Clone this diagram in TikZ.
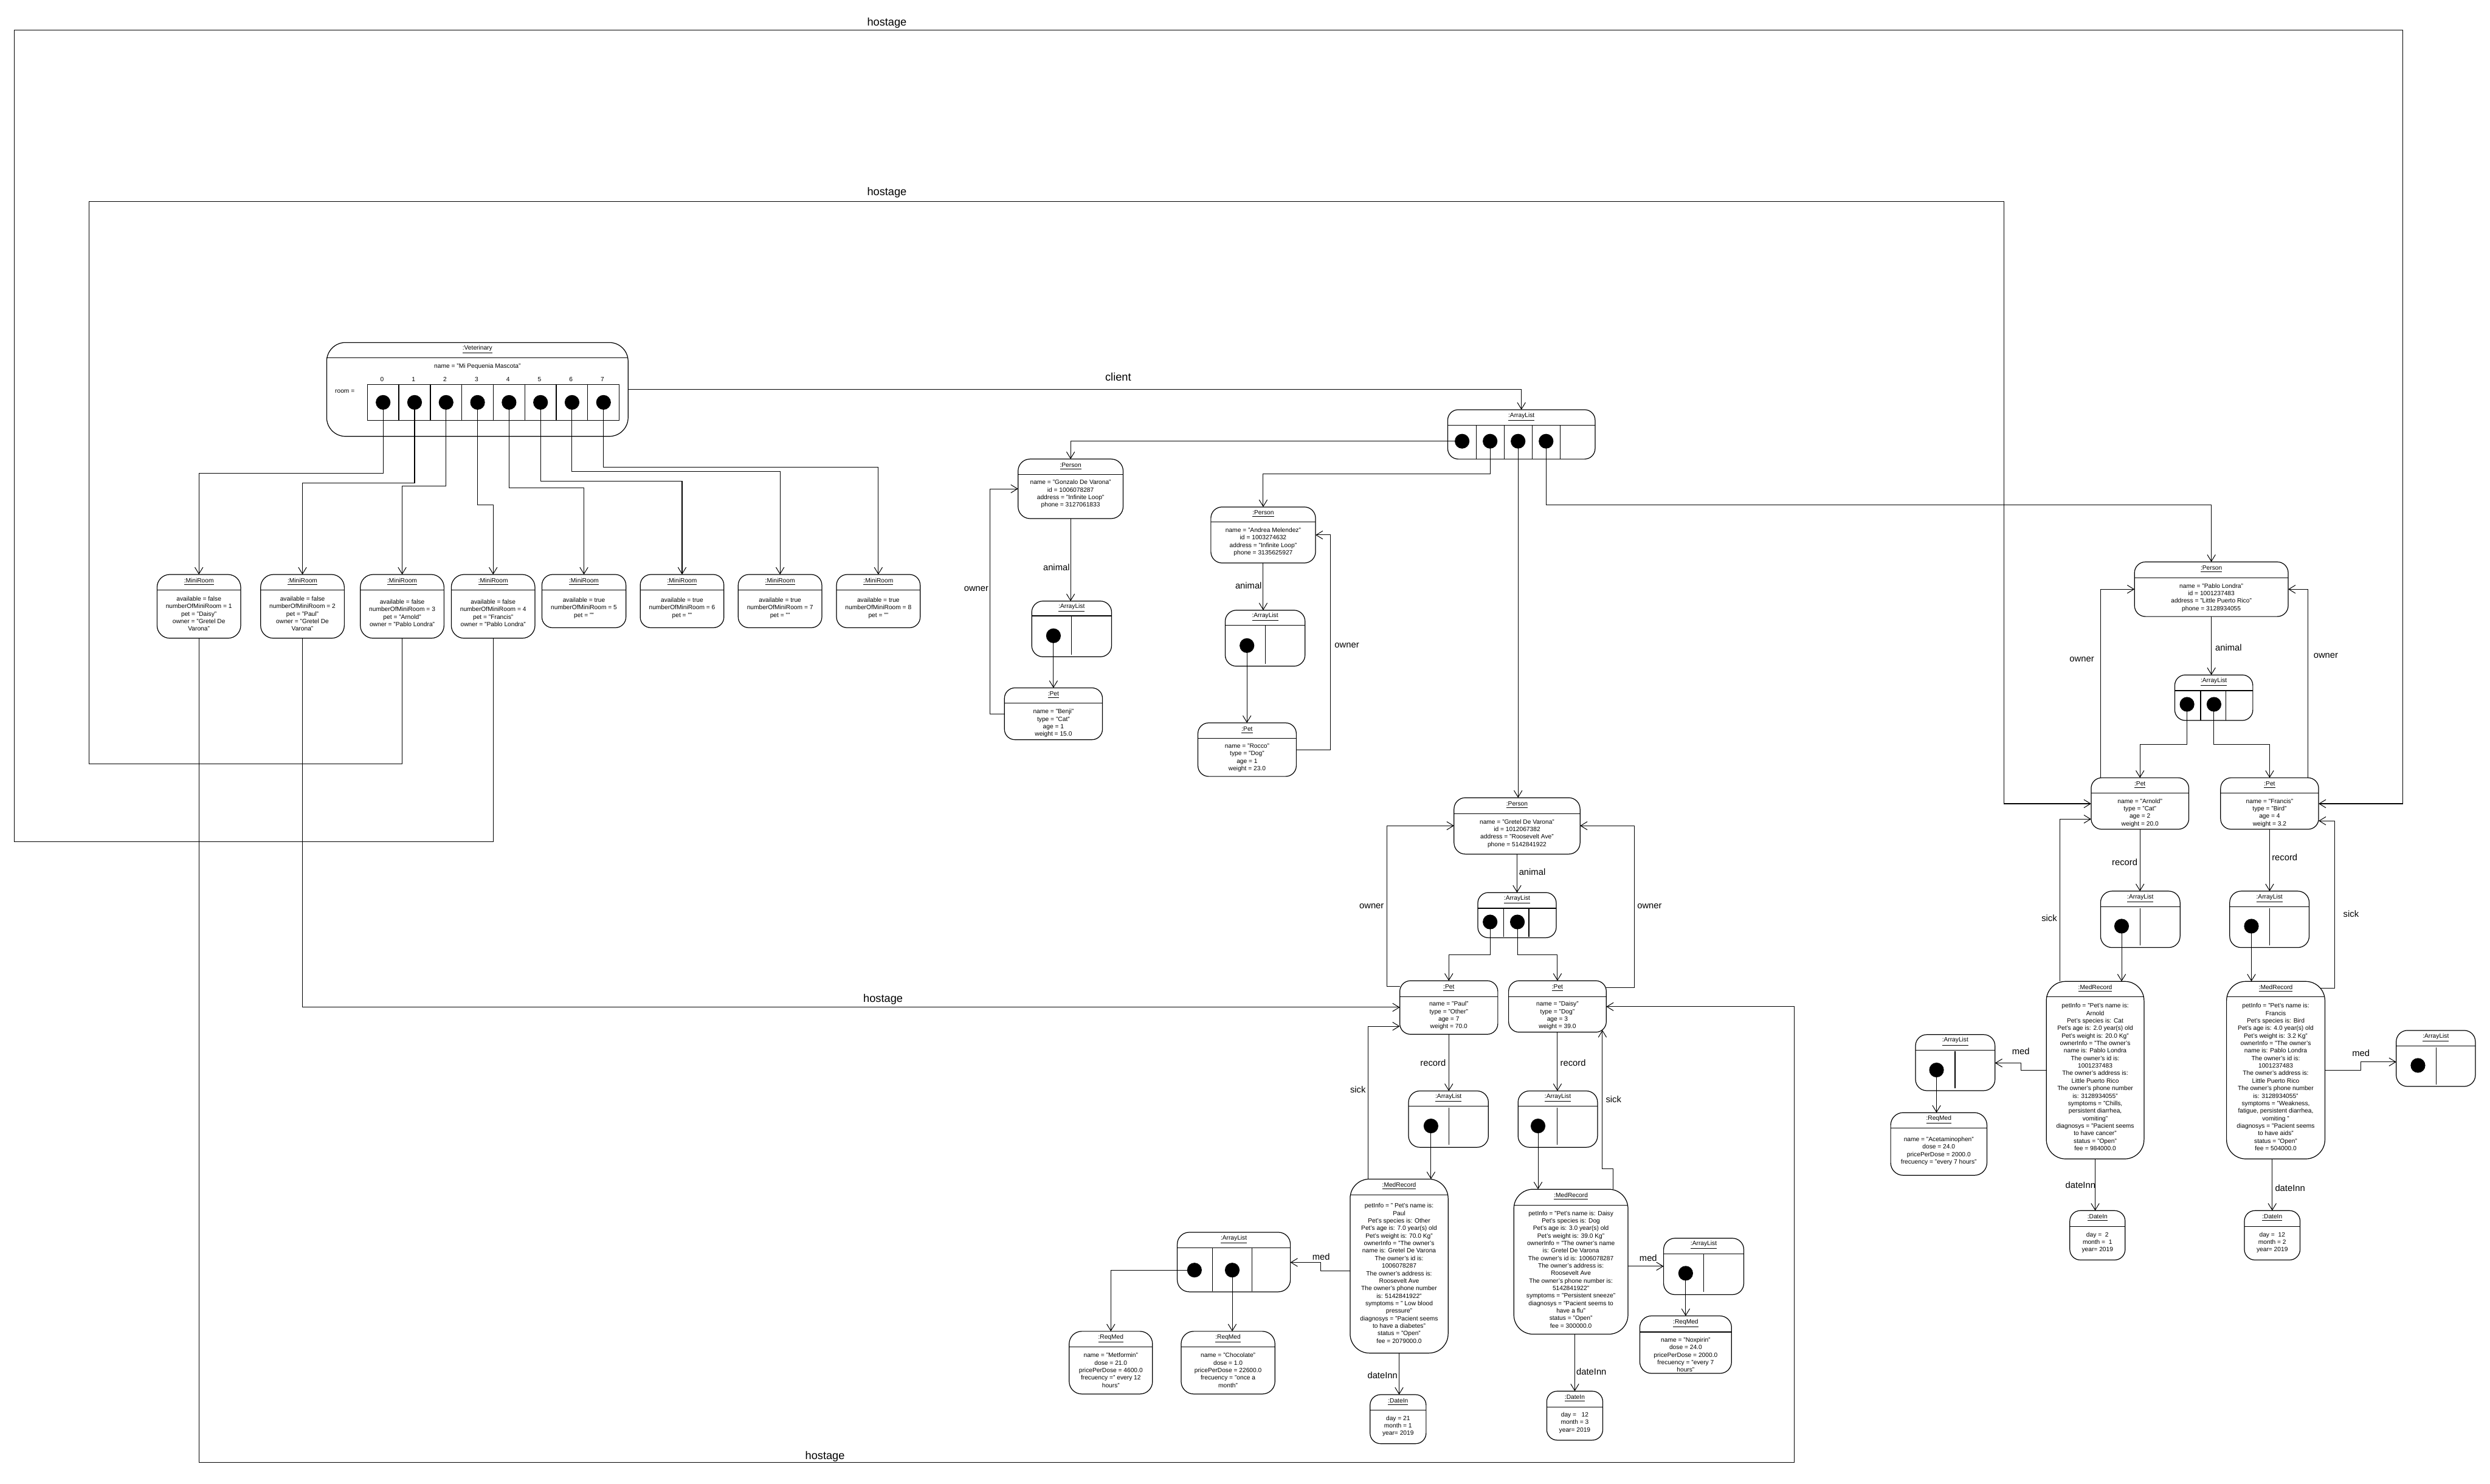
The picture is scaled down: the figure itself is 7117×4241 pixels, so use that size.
\documentclass[tikz,border=0pt]{standalone}
\usepackage{fontspec}
\setmainfont{Liberation Sans}
\usetikzlibrary{arrows.meta}
\newcommand\attrfont{\fontsize{5.05}{6.1}\selectfont}
\newcommand\lblfont{\fontsize{7.3}{8.5}\selectfont}
\newcommand\bigfont{\fontsize{9}{10.5}\selectfont}
\tikzset{
 box/.style={line width=0.6pt},
 conn/.style={line width=0.5pt},
 arr/.style={conn,-{Straight Barb[length=5.4pt,width=6.6pt]}},
 attr/.style={font=\attrfont,inner sep=0pt,align=center},
 lbl/.style={font=\lblfont,inner sep=0pt,text height=0.72em,text depth=0.2em},
 bigl/.style={font=\bigfont,inner sep=0pt,text height=0.72em,text depth=0.2em},
 dot/.style={circle,fill=black,inner sep=0pt,minimum size=0.42cm},
}
% #1 name, #2 left, #3 top, #4 right, #5 bottom, #6 header y, #7 title, #8 body y, #9 body
\newcommand\uobj[9]{%
 \pgfmathsetmacro\uw{(#4-#2)/100}%
 \pgfmathsetmacro\uh{(#5-#3)/100}%
 \pgfmathsetmacro\ucx{(#2+#4)/2}%
 \pgfmathsetmacro\ucy{(#3+#5)/2}%
 \pgfmathsetmacro\ur{min(max(0.2*min(\uw,\uh),0.30),0.55)}%
 \node[inner sep=0pt,outer sep=0pt,minimum width=\uw cm,minimum height=\uh cm] (#1) at (\ucx,\ucy) {};
 \draw[box,rounded corners=\ur cm] (#1.north west) rectangle (#1.south east);
 \draw[box] (#1.west |- 0,#6) -- (#1.east |- 0,#6);
 \node[attr] (#1-t) at (\ucx,{(#3+#6)/2-2}) {\underline{#7}};
 \if\relax\detokenize{#9}\relax\else
 \node[attr] (#1-b) at (\ucx,#8) {#9};\fi
}
\begin{document}
\begin{tikzpicture}[x=0.01cm,y=-0.01cm]
\useasboundingbox (0,0) rectangle (7117,4241);

% ---------- Veterinary ----------
\uobj{vet}{934}{979}{1795}{1247}{1023}{:Veterinary}{1048}{name = "Mi Pequenia Mascota"}
\node[attr,anchor=west] (roomlbl) at (957,1119) {room =};
\draw[box] (1050,1099) rectangle (1770,1202);
\foreach \i in {1,...,7} \draw[box] ({1050+90*\i},1099) -- ({1050+90*\i},1202);
\foreach \i in {0,...,7} {
 \node[attr] (vi\i) at ({1092+90*\i},1084) {\i};
 \node[dot] (vc\i) at ({1095+90*\i},1150) {};
}

% ---------- MiniRooms ----------
\uobj{room1}{449}{1642}{688}{1824}{1686}{:MiniRoom}{1754}{available = false\\numberOfMiniRoom = 1\\pet = "Daisy"\\owner = "Gretel De\\Varona"}
\uobj{room2}{745}{1642}{984}{1824}{1686}{:MiniRoom}{1754}{available = false\\numberOfMiniRoom = 2\\pet = "Paul"\\owner = "Gretel De\\Varona"}
\uobj{room3}{1030}{1642}{1269}{1824}{1686}{:MiniRoom}{1752}{available = false\\numberOfMiniRoom = 3\\pet = "Arnold"\\owner = "Pablo Londra"}
\uobj{room4}{1290}{1642}{1529}{1824}{1686}{:MiniRoom}{1752}{available = false\\numberOfMiniRoom = 4\\pet = "Francis"\\owner = "Pablo Londra"}
\uobj{room5}{1549}{1642}{1789}{1794}{1686}{:MiniRoom}{1738}{available = true\\numberOfMiniRoom = 5\\pet = ""}
\uobj{room6}{1830}{1642}{2069}{1794}{1686}{:MiniRoom}{1738}{available = true\\numberOfMiniRoom = 6\\pet = ""}
\uobj{room7}{2110}{1642}{2349}{1794}{1686}{:MiniRoom}{1738}{available = true\\numberOfMiniRoom = 7\\pet = ""}
\uobj{room8}{2391}{1642}{2630}{1794}{1686}{:MiniRoom}{1738}{available = true\\numberOfMiniRoom = 8\\pet = ""}

% ---------- top ArrayList ----------
\uobj{alTop}{4138}{1171}{4559}{1312}{1216}{:ArrayList}{0}{}
\foreach \x in {4219,4299,4379,4459} \draw[box] (\x,1216) -- (\x,1312);
\node[dot] (a1) at (4179,1261) {};
\node[dot] (a2) at (4259,1261) {};
\node[dot] (a3) at (4339,1261) {};
\node[dot] (a4) at (4419,1261) {};

% ---------- Gonzalo ----------
\uobj{gonP}{2910}{1312}{3210}{1482}{1356}{:Person}{1412}{name = "Gonzalo De Varona"\\id = 1006078287\\address = "Infinite Loop"\\phone = 3127061833}
\uobj{gonAL}{2949}{1718}{3177}{1877}{1760}{:ArrayList}{0}{}
\draw[box] (3063,1760) -- (3063,1871);
\node[dot] (gzd) at (3011,1817) {};
\uobj{benji}{2871}{1966}{3151}{2114}{2010}{:Pet}{2067}{name = "Benji"\\type = "Cat"\\age = 1\\weight = 15.0}

% ---------- Andrea ----------
\uobj{andP}{3461}{1449}{3760}{1609}{1492}{:Person}{1549}{name = "Andrea Melendez"\\id = 1003274632\\address = "Infinite Loop"\\phone = 3135625927}
\uobj{andAL}{3502}{1744}{3730}{1904}{1787}{:ArrayList}{0}{}
\draw[box] (3616,1787) -- (3616,1897);
\node[dot] (ad) at (3564,1845) {};
\uobj{rocco}{3424}{2066}{3705}{2219}{2110}{:Pet}{2166}{name = "Rocco"\\type = "Dog"\\age = 1\\weight = 23.0}

% ---------- Pablo ----------
\uobj{pabP}{6101}{1606}{6540}{1762}{1651}{:Person}{1708}{name = "Pablo Londra"\\id = 1001237483\\address = "Little Puerto Rico"\\phone = 3128934055}
\uobj{pabAL}{6216}{1929}{6439}{2059}{1974}{:ArrayList}{0}{}
\draw[box] (6290,1974) -- (6290,2059);
\draw[box] (6362,1974) -- (6362,2059);
\node[dot] (pd1) at (6251,2013) {};
\node[dot] (pd2) at (6328,2013) {};
\uobj{arnold}{5977}{2223}{6256}{2370}{2266}{:Pet}{2323}{name = "Arnold"\\type = "Cat"\\age = 2\\weight = 20.0}
\uobj{francis}{6347}{2223}{6627}{2370}{2266}{:Pet}{2323}{name = "Francis"\\type = "Bird"\\age = 4\\weight = 3.2}
\uobj{arnAL}{6004}{2547}{6231}{2708}{2591}{:ArrayList}{0}{}
\draw[box] (6117,2595) -- (6117,2701);
\node[dot] (arc) at (6064,2647) {};
\uobj{fraAL}{6373}{2547}{6600}{2708}{2591}{:ArrayList}{0}{}
\draw[box] (6487,2595) -- (6487,2701);
\node[dot] (frc) at (6435,2647) {};
\uobj{arnMR}{5849}{2805}{6128}{3312}{2849}{:MedRecord}{3078}{petInfo = "Pet's name is:\\Arnold\\Pet's species is: Cat\\Pet's age is: 2.0 year(s) old\\Pet's weight is: 20.0 Kg"\\ownerInfo = "The owner's\\name is: Pablo Londra\\The owner's id is:\\1001237483\\The owner's address is:\\Little Puerto Rico\\The owner's phone number\\is: 3128934055"\\symptoms =  "Chills,\\persistent diarrhea,\\vomiting"\\diagnosys = "Pacient seems\\to have cancer"\\status = "Open"\\fee = 984000.0}
\uobj{fraMR}{6364}{2805}{6645}{3312}{2849}{:MedRecord}{3078}{petInfo = "Pet's name is:\\Francis\\Pet's species is: Bird\\Pet's age is: 4.0 year(s) old\\Pet's weight is: 3.2 Kg"\\ownerInfo = "The owner's\\name is: Pablo Londra\\The owner's id is:\\1001237483\\The owner's address is:\\Little Puerto Rico\\The owner's phone number\\is: 3128934055"\\symptoms =  "Weakness,\\fatigue, persistent diarrhea,\\vomiting "\\diagnosys = "Pacient seems\\to have aids"\\status = "Open"\\fee = 504000.0}
\uobj{arnMedAL}{5475}{2957}{5702}{3117}{3001}{:ArrayList}{0}{}
\draw[box] (5588,3005) -- (5588,3110);
\node[dot] (amc) at (5535,3058) {};
\uobj{fraMedAL}{6849}{2945}{7075}{3105}{2989}{:ArrayList}{0}{}
\draw[box] (6963,2993) -- (6963,3099);
\node[dot] (fmc) at (6911,3045) {};
\uobj{acet}{5404}{3180}{5679}{3359}{3224}{:ReqMed}{3290}{name = "Acetaminophen"\\dose = 24.0\\pricePerDose =  2000.0\\frecuency = "every 7 hours"}
\uobj{arnDate}{5916}{3460}{6074}{3601}{3505}{:DateIn}{3551}{day =\ \ 2\\month =\ \ 1\\year= 2019}
\uobj{fraDate}{6415}{3460}{6574}{3601}{3505}{:DateIn}{3551}{day =\ \ 12\\month = 2\\year= 2019}

% ---------- Gretel ----------
\uobj{greP}{4156}{2280}{4516}{2441}{2325}{:Person}{2382}{name = "Gretel De Varona"\\id = 1012067382\\address = "Roosevelt Ave"\\phone = 5142841922}
\uobj{greAL}{4224}{2551}{4448}{2680}{2596}{:ArrayList}{0}{}
\draw[box] (4298,2596) -- (4298,2678);
\draw[box] (4370,2596) -- (4370,2678);
\node[dot] (grd1) at (4259,2635) {};
\node[dot] (grd2) at (4337,2635) {};
\uobj{paul}{4001}{2803}{4281}{2956}{2848}{:Pet}{2903}{name = "Paul"\\type = "Other"\\age = 7\\weight = 70.0}
\uobj{daisy}{4312}{2803}{4591}{2950}{2848}{:Pet}{2903}{name = "Daisy"\\type = "Dog"\\age = 3\\weight = 39.0}
\uobj{paulAL}{4026}{3118}{4254}{3279}{3162}{:ArrayList}{0}{}
\draw[box] (4141,3166) -- (4141,3272);
\node[dot] (pad) at (4090,3218) {};
\uobj{daisyAL}{4339}{3118}{4566}{3279}{3162}{:ArrayList}{0}{}
\draw[box] (4451,3166) -- (4451,3272);
\node[dot] (dad) at (4396,3218) {};
\uobj{paulMR}{3859}{3370}{4139}{3867}{3415}{:MedRecord}{3639}{petInfo = " Pet's name is:\\Paul\\Pet's species is: Other\\Pet's age is: 7.0 year(s) old\\Pet's weight is: 70.0 Kg"\\ownerInfo = "The owner's\\name is: Gretel De Varona\\The owner's id is:\\1006078287\\The owner's address is:\\Roosevelt Ave\\The owner's phone number\\is: 5142841922"\\symptoms =  " Low blood\\pressure"\\diagnosys = "Pacient seems\\to have a diabetes"\\status = "Open"\\fee = 2079000.0}
\uobj{daisyMR}{4327}{3399}{4653}{3813}{3444}{:MedRecord}{3628}{petInfo = "Pet's name is: Daisy\\Pet's species is: Dog\\Pet's age is: 3.0 year(s) old\\Pet's weight is: 39.0 Kg"\\ownerInfo = "The owner's name\\is: Gretel De Varona\\The owner's id is: 1006078287\\The owner's address is:\\Roosevelt Ave\\The owner's phone number is:\\5142841922"\\symptoms =  "Persistent sneeze"\\diagnosys = "Pacient seems to\\have a flu"\\status = "Open"\\fee = 300000.0}
\uobj{paulMedAL}{3365}{3522}{3688}{3692}{3566}{:ArrayList}{0}{}
\draw[box] (3465,3566) -- (3465,3691);
\draw[box] (3578,3566) -- (3578,3691);
\node[dot] (pm1) at (3414,3630) {};
\node[dot] (pm2) at (3522,3630) {};
\uobj{metf}{3056}{3805}{3294}{3984}{3850}{:ReqMed}{3916}{name = "Metformin"\\dose = 21.0\\pricePerDose = 4600.0\\frecuency =" every 12\\hours"}
\uobj{choc}{3376}{3805}{3644}{3984}{3850}{:ReqMed}{3916}{name = "Chocolate"\\dose = 1.0\\pricePerDose = 22600.0\\frecuency = "once a\\month"}
\uobj{paulDate}{3916}{3986}{4076}{4126}{4030}{:DateIn}{4076}{day = 21\\month = 1\\year= 2019}
\uobj{daisyMedAL}{4755}{3539}{4984}{3700}{3583}{:ArrayList}{0}{}
\draw[box] (4870,3585) -- (4870,3693);
\node[dot] (dmc) at (4818,3639) {};
\uobj{noxp}{4687}{3761}{4949}{3925}{3807}{:ReqMed}{3872}{name = "Noxpirin"\\dose = 24.0\\pricePerDose = 2000.0\\frecuency = "every 7\\hours"}
\uobj{daisyDate}{4421}{3976}{4581}{4116}{4021}{:DateIn}{4066}{day =\ \ \ 12\\month = 3\\year= 2019}

\coordinate (fraSick) at (6632,2824);
\coordinate (daisySick) at (4580,2944);

% ---------- connectors ----------
\draw[arr] (vet.east |- 0,1113) -| (alTop.north);
\draw[arr] (vc0.center) -- (vc0.center |- 0,1353) -| (room1.north);
\draw[arr] (vc1.center) -- (vc1.center |- 0,1380) -| (room2.north);
\draw[arr] (vc2.center) -- (vc2.center |- 0,1389) -| (room3.north);
\draw[arr] (vc3.center) -- (vc3.center |- 0,1443) -| (room4.north);
\draw[arr] (vc4.center) -- (vc4.center |- 0,1394) -| (room5.north);
\draw[arr] (vc5.center) -- (vc5.center |- 0,1375) -| (room6.north);
\draw[arr] (vc6.center) -- (vc6.center |- 0,1348) -| (room7.north);
\draw[arr] (vc7.center) -- (vc7.center |- 0,1335) -| (room8.north);
% hostage loops
\draw[arr] (room4.south) -- (room4.south |- 0,2406) -- (41,2406) -- (41,86) -- (6868,86) -- (6868,2297) -- (francis.east |- 0,2297);
\draw[arr] (room3.south) -- (room3.south |- 0,2183) -- (254,2183) -- (254,576) -- (5728,576) -- (5728,2297) -- (arnold.west |- 0,2297);
\draw[arr] (room2.south) |- (paul.west |- 0,2879);
\draw[arr] (room1.south) -- (room1.south |- 0,4180) -- (5129,4180) -- (5129,2877) -- (daisy.east |- 0,2877);
% top list
\draw[arr] (a1.center) -| (gonP.north);
\draw[arr] (a2.center) -- (a2.center |- 0,1355) -| (andP.north);
\draw[arr] (a3.center) -- (a3.center |- greP.north);
\draw[arr] (a4.center) -- (a4.center |- 0,1443) -| (pabP.north);
% Gonzalo
\draw[arr] (gonP.south) -- (gonP.south |- gonAL.north);
\draw[arr] (gzd.center) -- (gzd.center |- benji.north);
\draw[arr] (benji.west |- 0,2041) -- (2830,2041) -- (2830,1397) -- (gonP.west |- 0,1397);
% Andrea
\draw[arr] (andP.south) -- (andP.south |- andAL.north);
\draw[arr] (ad.center) -- (ad.center |- rocco.north);
\draw[arr] (rocco.east |- 0,2143) -- (3802,2143) -- (3802,1529) -- (andP.east |- 0,1529);
% Pablo
\draw[arr] (pabP.south) -- (pabP.south |- pabAL.north);
\draw[arr] (pd1.center) -- (pd1.center |- 0,2127) -| (arnold.north);
\draw[arr] (pd2.center) -- (pd2.center |- 0,2127) -| (francis.north);
\draw[arr] (arnold.north -| 6004,0) -- (6004,1684) -- (pabP.west |- 0,1684);
\draw[arr] (francis.north -| 6596,0) -- (6596,1684) -- (pabP.east |- 0,1684);
\draw[arr] (arnold.south) -- (arnold.south |- arnAL.north);
\draw[arr] (francis.south) -- (francis.south |- fraAL.north);
\draw[arr] (arc.center) -- (arc.center |- arnMR.north);
\draw[arr] (frc.center) -- (frc.center |- fraMR.north);
\draw[arr] (arnMR.north -| 5887,0) -- (5887,2341) -- (arnold.west |- 0,2341);
\draw[arr] (fraSick) -- (6673,2824) -- (6673,2346) -- (francis.east |- 0,2346);
\draw[arr] (arnMR.west |- 0,3059) -- (5776,3059) -- (5776,3038) -- (arnMedAL.east |- 0,3038);
\draw[arr] (fraMR.east |- 0,3059) -- (6747,3059) -- (6747,3035) -- (fraMedAL.west |- 0,3035);
\draw[arr] (amc.center) -- (amc.center |- acet.north);
\draw[arr] (arnMR.south) -- (arnMR.south |- arnDate.north);
\draw[arr] (fraDate.north |- fraMR.south) -- (fraDate.north);
% Gretel
\draw[arr] (greP.south) -- (greP.south |- greAL.north);
\draw[arr] (grd1.center) -- (grd1.center |- 0,2728) -| (paul.north);
\draw[arr] (grd2.center) -- (grd2.center |- 0,2728) -| (daisy.north);
\draw[arr] (paul.west |- 0,2819) -- (3964,2819) -- (3964,2360) -- (greP.west |- 0,2360);
\draw[arr] (daisy.east |- 0,2823) -- (4671,2823) -- (4671,2360) -- (greP.east |- 0,2360);
\draw[arr] (paul.south) -- (paul.south |- paulAL.north);
\draw[arr] (daisy.south) -- (daisy.south |- daisyAL.north);
\draw[arr] (pad.center) -- (pad.center |- paulMR.north);
\draw[arr] (dad.center) -- (dad.center |- daisyMR.north);
\draw[arr] (paulMR.north -| 3910,0) -- (3910,2933) -- (paul.west |- 0,2933);
\draw[arr] (daisyMR.north -| 4610,0) -- (4610,3340) -- (4580,3340) -- (daisySick);
\draw[arr] (paulMR.west |- 0,3632) -- (3774,3632) -- (3774,3608) -- (paulMedAL.east |- 0,3608);
\draw[arr] (pm1.center) -| (metf.north);
\draw[arr] (pm2.center) -- (pm2.center |- choc.north);
\draw[arr] (paulMR.south) -- (paulMR.south |- paulDate.north);
\draw[arr] (daisyMR.east |- 0,3619) -- (daisyMedAL.west |- 0,3619);
\draw[arr] (dmc.center) -- (dmc.center |- noxp.north);
\draw[arr] (daisyDate.north |- daisyMR.south) -- (daisyDate.north);

% ---------- labels ----------
\node[bigl] (lclient) at (3196,1080) {client};
\node[bigl] (lh1) at (2535,64) {hostage};
\node[bigl] (lh2) at (2535,549) {hostage};
\node[bigl] (lh3) at (2524,2855) {hostage};
\node[bigl] (lh4) at (2358,4162) {hostage};
\node[lbl,anchor=east] (l1) at (3058,1621) {animal};
\node[lbl,anchor=east] (l2) at (2826,1680) {owner};
\node[lbl,anchor=east] (l3) at (3607,1673) {animal};
\node[lbl,anchor=west] (l4) at (3814,1842) {owner};
\node[lbl,anchor=east] (l5) at (5986,1882) {owner};
\node[lbl,anchor=west] (l6) at (6612,1872) {owner};
\node[lbl,anchor=west] (l7) at (6331,1851) {animal};
\node[lbl,anchor=west] (l8) at (4341,2492) {animal};
\node[lbl,anchor=east] (l9) at (3956,2587) {owner};
\node[lbl,anchor=west] (l10) at (4679,2587) {owner};
\node[lbl,anchor=east] (l11) at (4133,3037) {record};
\node[lbl,anchor=west] (l12) at (4459,3037) {record};
\node[lbl,anchor=east] (l13) at (6110,2465) {record};
\node[lbl,anchor=west] (l14) at (6493,2451) {record};
\node[lbl,anchor=east] (l15) at (3904,3114) {sick};
\node[lbl,anchor=west] (l16) at (4589,3141) {sick};
\node[lbl,anchor=east] (l17) at (5880,2624) {sick};
\node[lbl,anchor=west] (l18) at (6697,2612) {sick};
\node[lbl] (l19) at (5776,3004) {med};
\node[lbl] (l20) at (6748,3009) {med};
\node[lbl] (l21) at (3776,3592) {med};
\node[lbl] (l22) at (4711,3596) {med};
\node[lbl,anchor=east] (l23) at (5990,3387) {dateInn};
\node[lbl,anchor=west] (l24) at (6502,3396) {dateInn};
\node[lbl,anchor=east] (l25) at (3995,3931) {dateInn};
\node[lbl,anchor=west] (l26) at (4505,3920) {dateInn};
\end{tikzpicture}
\end{document}
